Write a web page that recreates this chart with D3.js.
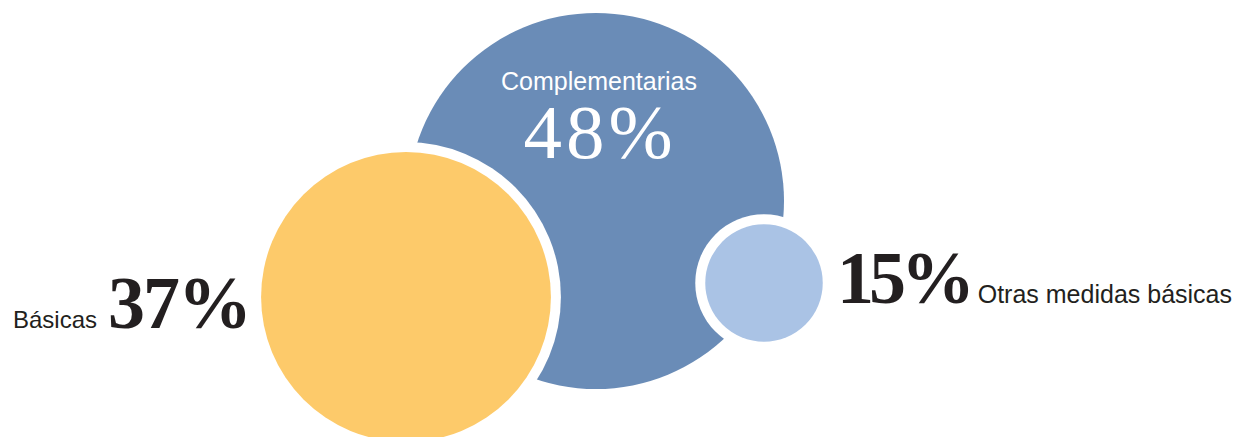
<!DOCTYPE html>
<html>
<head>
<meta charset="utf-8">
<script src="https://cdn.jsdelivr.net/npm/d3@7/dist/d3.min.js"></script>
<style>
  html, body { margin: 0; padding: 0; background: #fff; }
  svg { display: block; }
</style>
</head>
<body>
<div id="chart"></div>
<script>
'use strict';

// data
var categories = ['Complementarias', 'Básicas', 'Otras medidas básicas'];
var values = [48, 37, 15];
var colors = ['#6a8cb7', '#fdca6a', '#aac3e5'];

// layout: circle centres (px) for each category
var centres = [[596, 201], [406, 297], [764, 283]];

var width = 1238, height = 437;

var svg = d3.select('#chart')
    .append('svg')
        .attr('width', width)
        .attr('height', height);

// radius grows linearly with the share
var rScale = d3.scaleLinear()
    .domain([0, d3.max(values)])
    .range([0, 188]);

var data = categories.map(function(c, i) {
    return {name: c, value: values[i], color: colors[i],
            x: centres[i][0], y: centres[i][1]};
});

var node = svg.selectAll('.bubble')
    .data(data)
    .enter().append('g')
        .attr('class', 'bubble')
        .attr('transform', function(d) { return 'translate(' + d.x + ',' + d.y + ')'; });

// white halo under the smaller bubbles
node.filter(function(d, i) { return i > 0; })
    .append('circle')
        .attr('r', function(d) { return rScale(d.value) + 10; })
        .attr('fill', '#fff');

node.append('circle')
    .attr('r', function(d) { return rScale(d.value); })
    .attr('fill', function(d) { return d.color; });

var sans = '"Liberation Sans", Arial, sans-serif';
var serif = '"Liberation Serif", "Times New Roman", serif';
var pct = function(v) { return v + '%'; };

// Complementarias - inside the big bubble
svg.append('text')
    .attr('x', 599).attr('y', 90)
    .attr('text-anchor', 'middle')
    .attr('font-family', sans).attr('font-size', 25)
    .attr('fill', '#fff')
    .text(data[0].name);

svg.append('text')
    .attr('x', 600).attr('y', 158)
    .attr('text-anchor', 'middle')
    .attr('font-family', serif).attr('font-size', 77)
    .attr('letter-spacing', 4)
    .attr('fill', '#fff')
    .text(pct(data[0].value));

// Básicas - left of the yellow bubble
svg.append('text')
    .attr('x', 250).attr('y', 328)
    .attr('text-anchor', 'end')
    .attr('font-family', serif).attr('font-size', 74).attr('font-weight', 'bold')
    .attr('letter-spacing', -2)
    .attr('fill', '#231f20')
    .text(pct(data[1].value));

svg.append('text')
    .attr('x', 97).attr('y', 328)
    .attr('text-anchor', 'end')
    .attr('font-family', sans).attr('font-size', 24)
    .attr('fill', '#231f20')
    .text(data[1].name);

// Otras medidas básicas - right of the small bubble
svg.append('text')
    .attr('x', 837).attr('y', 303)
    .attr('font-family', serif).attr('font-size', 74).attr('font-weight', 'bold')
    .attr('letter-spacing', -5)
    .attr('fill', '#231f20')
    .text(pct(data[2].value));

svg.append('text')
    .attr('x', 1232).attr('y', 303)
    .attr('text-anchor', 'end')
    .attr('font-family', sans).attr('font-size', 25)
    .attr('fill', '#231f20')
    .text(data[2].name);
</script>
</body>
</html>
